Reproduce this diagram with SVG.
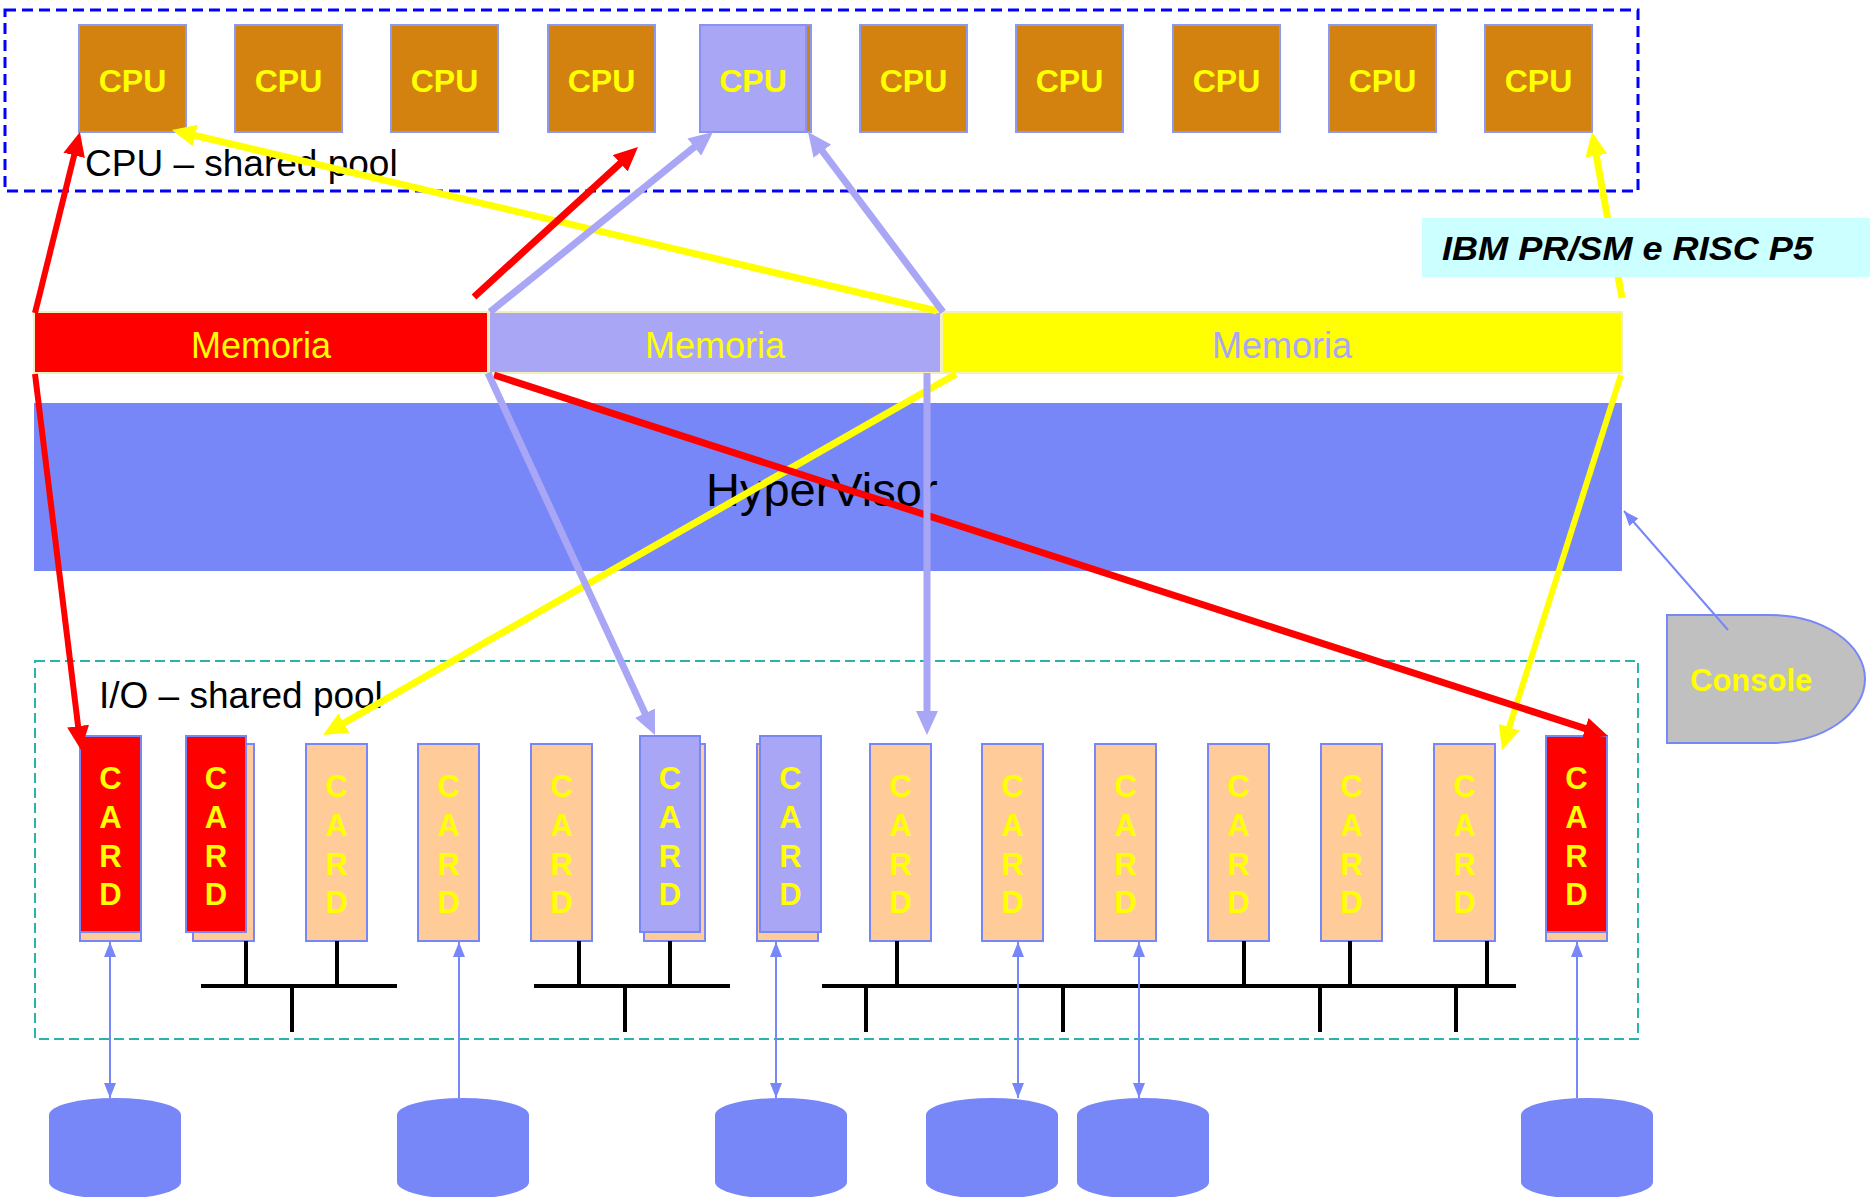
<svg xmlns="http://www.w3.org/2000/svg" width="1874" height="1197" viewBox="0 0 1874 1197">
<style>
.cpu{fill:#D3820F;stroke:#8A9AF0;stroke-width:2}
.cpup{fill:#A9A6F6;stroke:#8A92F0;stroke-width:2}
.cput{font-family:"Liberation Sans",Arial,sans-serif;font-weight:bold;font-size:32px;fill:#FFFF00;text-anchor:middle}
.card{fill:#FFCC99;stroke:#7887F8;stroke-width:2}
.cardr{fill:#FF0000;stroke:#7887F8;stroke-width:2}
.cardp{fill:#A9A6F6;stroke:#7887F8;stroke-width:2}
.cardt{font-family:"Liberation Sans",Arial,sans-serif;font-weight:bold;font-size:31px;fill:#FFFF00;text-anchor:middle}
.lbl{font-family:"Liberation Sans",Arial,sans-serif;font-size:37px;fill:#000}
.mem{font-family:"Liberation Sans",Arial,sans-serif;font-size:36px;text-anchor:middle}
.bus{stroke:#000;stroke-width:4;fill:none}
.disk{fill:#7887F8}
.thin{stroke:#7887F8;stroke-width:2;fill:none}
.thk{fill:none;stroke-width:7}
</style>
<defs>
<marker id="aR" markerUnits="userSpaceOnUse" markerWidth="24" markerHeight="22" refX="14" refY="11" orient="auto"><path d="M0,0 L24,11 L0,22 z" fill="#FF0000"/></marker>
<marker id="aY" markerUnits="userSpaceOnUse" markerWidth="24" markerHeight="22" refX="14" refY="11" orient="auto"><path d="M0,0 L24,11 L0,22 z" fill="#FFFF00"/></marker>
<marker id="aP" markerUnits="userSpaceOnUse" markerWidth="24" markerHeight="22" refX="14" refY="11" orient="auto"><path d="M0,0 L24,11 L0,22 z" fill="#A9A6F6"/></marker>
<marker id="aB" markerUnits="userSpaceOnUse" markerWidth="15" markerHeight="12" refX="15" refY="6" orient="auto-start-reverse"><path d="M0,0 L15,6 L0,12 z" fill="#7887F8"/></marker>
</defs>
<rect width="1874" height="1197" fill="#FFFFFF"/>

<g id="cpu-pool">
<rect x="5" y="10" width="1633" height="181" fill="none" stroke="#0000FF" stroke-width="3" stroke-dasharray="11 6"/>
</g>

<g id="cpus">
<g id="cpu1"><rect class="cpu" x="79" y="25" width="107" height="107"/><text class="cput" x="132.5" y="92">CPU</text></g>
<g id="cpu2"><rect class="cpu" x="235" y="25" width="107" height="107"/><text class="cput" x="288.5" y="92">CPU</text></g>
<g id="cpu3"><rect class="cpu" x="391" y="25" width="107" height="107"/><text class="cput" x="444.5" y="92">CPU</text></g>
<g id="cpu4"><rect class="cpu" x="548" y="25" width="107" height="107"/><text class="cput" x="601.5" y="92">CPU</text></g>
<g id="cpu5"><rect class="cpu" x="704" y="25" width="107" height="107"/><rect class="cpup" x="700" y="25" width="106" height="107"/><text class="cput" x="753" y="92">CPU</text></g>
<g id="cpu6"><rect class="cpu" x="860" y="25" width="107" height="107"/><text class="cput" x="913.5" y="92">CPU</text></g>
<g id="cpu7"><rect class="cpu" x="1016" y="25" width="107" height="107"/><text class="cput" x="1069.5" y="92">CPU</text></g>
<g id="cpu8"><rect class="cpu" x="1173" y="25" width="107" height="107"/><text class="cput" x="1226.5" y="92">CPU</text></g>
<g id="cpu9"><rect class="cpu" x="1329" y="25" width="107" height="107"/><text class="cput" x="1382.5" y="92">CPU</text></g>
<g id="cpu10"><rect class="cpu" x="1485" y="25" width="107" height="107"/><text class="cput" x="1538.5" y="92">CPU</text></g>
</g>

<g id="memoria">
<g id="mem-red"><rect x="34" y="312" width="454" height="61" fill="#FF0000" stroke="#F2F0B8" stroke-width="2"/><text class="mem" x="261" y="358" fill="#FFFF00">Memoria</text></g>
<g id="mem-purple"><rect x="489" y="312" width="452" height="61" fill="#A9A6F6" stroke="#F2F0B8" stroke-width="2"/><text class="mem" x="715" y="358" fill="#FFFF00">Memoria</text></g>
<g id="mem-yellow"><rect x="942" y="312" width="680" height="61" fill="#FFFF00" stroke="#F2F0B8" stroke-width="2"/><text class="mem" x="1282" y="358" fill="#A9A6F6">Memoria</text></g>
</g>

<g id="hypervisor">
<rect x="34" y="403" width="1588" height="168" fill="#7887F8"/>
<text x="706" y="506" font-family="'Liberation Sans',Arial,sans-serif" font-size="47" fill="#000">HyperVisor</text>
</g>

<g id="io-pool">
<rect x="35" y="661" width="1603" height="378" fill="none" stroke="#2AB4A9" stroke-width="2" stroke-dasharray="10 5"/>
</g>

<g id="cards">
<g id="card1"><rect class="card" x="80" y="744" width="61" height="197"/><rect class="cardr" x="80" y="736" width="61" height="196"/><text class="cardt"><tspan x="110.5" y="789">C</tspan><tspan x="110.5" y="828">A</tspan><tspan x="110.5" y="867">R</tspan><tspan x="110.5" y="905">D</tspan></text></g>
<g id="card2"><rect class="card" x="193" y="744" width="61" height="197"/><rect class="cardr" x="186" y="736" width="60" height="196"/><text class="cardt"><tspan x="216" y="789">C</tspan><tspan x="216" y="828">A</tspan><tspan x="216" y="867">R</tspan><tspan x="216" y="905">D</tspan></text></g>
<g id="card3"><rect class="card" x="306" y="744" width="61" height="197"/><text class="cardt"><tspan x="336.5" y="797">C</tspan><tspan x="336.5" y="836">A</tspan><tspan x="336.5" y="875">R</tspan><tspan x="336.5" y="913">D</tspan></text></g>
<g id="card4"><rect class="card" x="418" y="744" width="61" height="197"/><text class="cardt"><tspan x="448.5" y="797">C</tspan><tspan x="448.5" y="836">A</tspan><tspan x="448.5" y="875">R</tspan><tspan x="448.5" y="913">D</tspan></text></g>
<g id="card5"><rect class="card" x="531" y="744" width="61" height="197"/><text class="cardt"><tspan x="561.5" y="797">C</tspan><tspan x="561.5" y="836">A</tspan><tspan x="561.5" y="875">R</tspan><tspan x="561.5" y="913">D</tspan></text></g>
<g id="card6"><rect class="card" x="644" y="744" width="61" height="197"/><rect class="cardp" x="640" y="736" width="60" height="196"/><text class="cardt"><tspan x="670" y="789">C</tspan><tspan x="670" y="828">A</tspan><tspan x="670" y="867">R</tspan><tspan x="670" y="905">D</tspan></text></g>
<g id="card7"><rect class="card" x="757" y="744" width="61" height="197"/><rect class="cardp" x="760" y="736" width="61" height="196"/><text class="cardt"><tspan x="790.5" y="789">C</tspan><tspan x="790.5" y="828">A</tspan><tspan x="790.5" y="867">R</tspan><tspan x="790.5" y="905">D</tspan></text></g>
<g id="card8"><rect class="card" x="870" y="744" width="61" height="197"/><text class="cardt"><tspan x="900.5" y="797">C</tspan><tspan x="900.5" y="836">A</tspan><tspan x="900.5" y="875">R</tspan><tspan x="900.5" y="913">D</tspan></text></g>
<g id="card9"><rect class="card" x="982" y="744" width="61" height="197"/><text class="cardt"><tspan x="1012.5" y="797">C</tspan><tspan x="1012.5" y="836">A</tspan><tspan x="1012.5" y="875">R</tspan><tspan x="1012.5" y="913">D</tspan></text></g>
<g id="card10"><rect class="card" x="1095" y="744" width="61" height="197"/><text class="cardt"><tspan x="1125.5" y="797">C</tspan><tspan x="1125.5" y="836">A</tspan><tspan x="1125.5" y="875">R</tspan><tspan x="1125.5" y="913">D</tspan></text></g>
<g id="card11"><rect class="card" x="1208" y="744" width="61" height="197"/><text class="cardt"><tspan x="1238.5" y="797">C</tspan><tspan x="1238.5" y="836">A</tspan><tspan x="1238.5" y="875">R</tspan><tspan x="1238.5" y="913">D</tspan></text></g>
<g id="card12"><rect class="card" x="1321" y="744" width="61" height="197"/><text class="cardt"><tspan x="1351.5" y="797">C</tspan><tspan x="1351.5" y="836">A</tspan><tspan x="1351.5" y="875">R</tspan><tspan x="1351.5" y="913">D</tspan></text></g>
<g id="card13"><rect class="card" x="1434" y="744" width="61" height="197"/><text class="cardt"><tspan x="1464.5" y="797">C</tspan><tspan x="1464.5" y="836">A</tspan><tspan x="1464.5" y="875">R</tspan><tspan x="1464.5" y="913">D</tspan></text></g>
<g id="card14"><rect class="card" x="1546" y="744" width="61" height="197"/><rect class="cardr" x="1546" y="736" width="61" height="196"/><text class="cardt"><tspan x="1576.5" y="789">C</tspan><tspan x="1576.5" y="828">A</tspan><tspan x="1576.5" y="867">R</tspan><tspan x="1576.5" y="905">D</tspan></text></g>
</g>

<g id="buses">
<path class="bus" d="M201,986 H397 M246,941 V986 M337,941 V986 M292,986 V1032"/>
<path class="bus" d="M534,986 H730 M579,941 V986 M670,941 V986 M625,986 V1032"/>
<path class="bus" d="M822,986 H1516 M897,941 V986 M1244,941 V986 M1350,941 V986 M1487,941 V986 M866,986 V1032 M1063,986 V1032 M1320,986 V1032 M1456,986 V1032"/>
</g>

<g id="disks">
<path id="disk1" class="disk" d="M49,1115 A66,17 0 0 1 181,1115 V1182 A66,17 0 0 1 49,1182 Z"/>
<path id="disk2" class="disk" d="M397,1115 A66,17 0 0 1 529,1115 V1182 A66,17 0 0 1 397,1182 Z"/>
<path id="disk3" class="disk" d="M715,1115 A66,17 0 0 1 847,1115 V1182 A66,17 0 0 1 715,1182 Z"/>
<path id="disk4" class="disk" d="M926,1115 A66,17 0 0 1 1058,1115 V1182 A66,17 0 0 1 926,1182 Z"/>
<path id="disk5" class="disk" d="M1077,1115 A66,17 0 0 1 1209,1115 V1182 A66,17 0 0 1 1077,1182 Z"/>
<path id="disk6" class="disk" d="M1521,1115 A66,17 0 0 1 1653,1115 V1182 A66,17 0 0 1 1521,1182 Z"/>
</g>

<g id="console">
<path d="M1667,615 H1770 A95,64 0 0 1 1770,743 H1667 Z" fill="#C0C0C0" stroke="#7887F8" stroke-width="2"/>
<text x="1690" y="691" font-family="'Liberation Sans',Arial,sans-serif" font-weight="bold" font-size="31" fill="#FFFF00">Console</text>
</g>

<g id="labels">
<text class="lbl" x="85" y="176">CPU – shared pool</text>
<text class="lbl" x="99" y="708">I/O – shared pool</text>
</g>

<g id="connectors">
<line class="thin" x1="110" y1="942" x2="110" y2="1098" marker-start="url(#aB)" marker-end="url(#aB)"/>
<line class="thin" x1="459" y1="1098" x2="459" y2="942" marker-end="url(#aB)"/>
<line class="thin" x1="776" y1="942" x2="776" y2="1098" marker-start="url(#aB)" marker-end="url(#aB)"/>
<line class="thin" x1="1018" y1="942" x2="1018" y2="1098" marker-start="url(#aB)" marker-end="url(#aB)"/>
<line class="thin" x1="1139" y1="942" x2="1139" y2="1098" marker-start="url(#aB)" marker-end="url(#aB)"/>
<line class="thin" x1="1577" y1="1098" x2="1577" y2="942" marker-end="url(#aB)"/>
<line class="thin" x1="1728" y1="630" x2="1624" y2="511" marker-end="url(#aB)"/>

<line class="thk" stroke="#FFFF00" x1="937" y1="311" x2="181.7" y2="132.3" marker-end="url(#aY)"/>
<line class="thk" stroke="#FFFF00" x1="956" y1="374" x2="331.7" y2="730" marker-end="url(#aY)"/>
<line class="thk" stroke="#FFFF00" x1="1622" y1="298" x2="1593.8" y2="141.8" marker-end="url(#aY)"/>
<line stroke="#FFFF00" stroke-width="6" x1="1621" y1="375" x2="1505" y2="740.5" marker-end="url(#aY)"/>

<line stroke="#FF0000" stroke-width="6" x1="35" y1="313" x2="77.5" y2="141.7" marker-end="url(#aR)"/>
<line stroke="#FF0000" stroke-width="6" x1="35" y1="374" x2="79.8" y2="740" marker-end="url(#aR)"/>
<line class="thk" stroke="#FF0000" x1="474" y1="297" x2="630.6" y2="153.8" marker-end="url(#aR)"/>
<line class="thk" stroke="#FF0000" x1="494" y1="375" x2="1598.5" y2="732.9" marker-end="url(#aR)"/>

<line class="thk" stroke="#A9A6F6" x1="490" y1="312" x2="705.2" y2="138.3" marker-end="url(#aP)"/>
<line class="thk" stroke="#A9A6F6" x1="943" y1="312" x2="814" y2="140" marker-end="url(#aP)"/>
<line class="thk" stroke="#A9A6F6" x1="488" y1="373" x2="650.8" y2="725.9" marker-end="url(#aP)"/>
<line class="thk" stroke="#A9A6F6" x1="927" y1="373" x2="927" y2="725" marker-end="url(#aP)"/>
</g>

<g id="ibm-label">
<rect x="1422" y="218" width="448" height="59" fill="#CCFFFF"/>
<text x="1442" y="260" font-family="'Liberation Sans',Arial,sans-serif" font-weight="bold" font-style="italic" font-size="34" fill="#000" textLength="371" lengthAdjust="spacingAndGlyphs">IBM PR/SM e RISC P5</text>
</g>
</svg>
